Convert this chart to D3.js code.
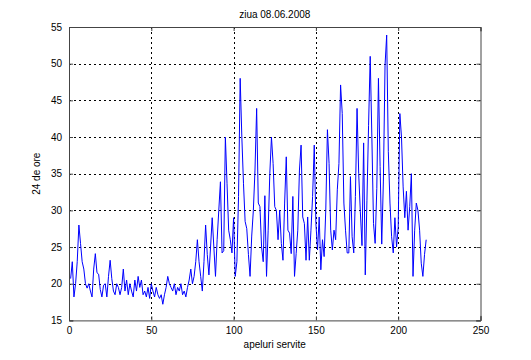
<!DOCTYPE html>
<html><head><meta charset="utf-8">
<script src="https://cdn.jsdelivr.net/npm/d3@7"></script>
<style>
body{margin:0;background:#fff;}
svg text{font-family:"Liberation Sans",Arial,sans-serif;font-size:10px;fill:#000;}
</style></head>
<body><svg id="c" width="531" height="360"></svg>
<script>
const title = "ziua 08.06.2008";
const xLabel = "apeluri servite";
const yLabel = "24 de ore";
const xTicks = [0, 50, 100, 150, 200, 250];
const yTicks = [15, 20, 25, 30, 35, 40, 45, 50, 55];
const values = [
20.7,23,18.2,20,23,28,25.5,23,22,20,
19.4,20,19,18.2,22,24.1,21.5,21.3,19.2,18.2,
19.8,20,18.2,21,23.2,20.7,19,18.5,20,19.5,
18.5,19.5,22,19,20.5,18.5,20,19,18.2,20.5,
19,21,19.5,20.5,18.5,19,18.2,19.5,18,20,
19,18.2,19.5,18.5,18,18.5,17.2,18.5,19.5,21,
20,19.5,19,20,18.5,19.5,19,20,18.5,19,
18.2,19.5,20.5,22,20,21,23,26,23,21,
19,23,28,24,21.2,25,29,25,21,26,
30,33.9,24.2,24.5,40,33.7,27.3,26,24.2,29,
21,23,31.9,48,40,33.7,28.5,27.5,24,21,
26.5,30,35.5,43.9,31,30.5,25,23,32,21,
27.3,35,40,36.4,30.5,30,26,30,25.5,23.2,
31,37.3,27.3,26.9,24.1,31.9,21,24.1,27.3,35.5,
38.9,29.1,28.2,23.2,29.1,23.2,27.3,31.9,38.9,28.2,
24.6,29.1,21.9,26,23.7,30,41,36.4,27.3,24.6,
27.3,26,32.8,36.4,47.1,43.2,31,27.3,24.2,24.2,
34.6,26.4,24.2,31.9,43.9,35,29.8,25.2,39.2,21.2,
31.3,41.6,51,40,28.2,25.5,33,48,36,25.4,
34,49.8,53.9,38,31,26.4,24.2,29,25,27.7,
43.2,40,33.2,29,32.6,27.3,30.5,35,21,27.3,
31,30,27.3,22.8,21,24,26
];

const svg = d3.select("#c");
const L = 69, R = 480.5, T = 27, B = 320.4;
const x = d3.scaleLinear().domain([0, 250]).range([L, R]);
const y = d3.scaleLinear().domain([15, 55]).range([B, T]);

// grid
const grid = svg.append("g").attr("stroke", "#000").attr("stroke-width", 1).attr("stroke-dasharray", "2,3");
grid.selectAll(".gx").data(xTicks.slice(1, -1)).enter().append("line")
  .attr("x1", d => Math.round(x(d)) + 0.5).attr("x2", d => Math.round(x(d)) + 0.5)
  .attr("y1", T).attr("y2", B);
grid.selectAll(".gy").data(yTicks.slice(1, -1)).enter().append("line")
  .attr("y1", d => Math.round(y(d)) + 0.5).attr("y2", d => Math.round(y(d)) + 0.5)
  .attr("x1", L).attr("x2", R);

// data line
const line = d3.line().x((d, i) => x(i + 1)).y(d => y(d));
svg.append("path").datum(values).attr("d", line)
  .attr("fill", "none").attr("stroke", "#0000ff").attr("stroke-width", 1);

// axes (ticks inward, box)
const ax = svg.append("g").attr("transform", `translate(0,${B})`)
  .call(d3.axisBottom(x).tickValues(xTicks).tickSize(-4).tickPadding(7).tickFormat(d3.format("d")));
const axT = svg.append("g").attr("transform", `translate(0,${T})`)
  .call(d3.axisTop(x).tickValues(xTicks).tickSize(-4).tickFormat(""));
const ay = svg.append("g").attr("transform", `translate(${L},0)`)
  .call(d3.axisLeft(y).tickValues(yTicks).tickSize(-4).tickPadding(7).tickFormat(d3.format("d")));
const ayR = svg.append("g").attr("transform", `translate(${R},0)`)
  .call(d3.axisRight(y).tickValues(yTicks).tickSize(-4).tickFormat(""));
[ax, axT, ay, ayR].forEach(g => {
  g.selectAll("path.domain").attr("stroke", "#444").attr("stroke-width", 1);
  g.selectAll(".tick line").attr("stroke", "#444");
  g.selectAll("text").attr("fill", "#000").style("font-family", '"Liberation Sans",Arial,sans-serif').style("font-size", "10px");
});
svg.selectAll(".domain").attr("stroke-linecap", "square");

// labels
svg.append("text").attr("x", (L + R) / 2).attr("y", 18).attr("text-anchor", "middle").text(title);
svg.append("text").attr("x", (L + R) / 2).attr("y", 348).attr("text-anchor", "middle").text(xLabel);
svg.append("text").attr("transform", `translate(40,${(T + B) / 2}) rotate(-90)`).attr("text-anchor", "middle").text(yLabel);
</script></body></html>
